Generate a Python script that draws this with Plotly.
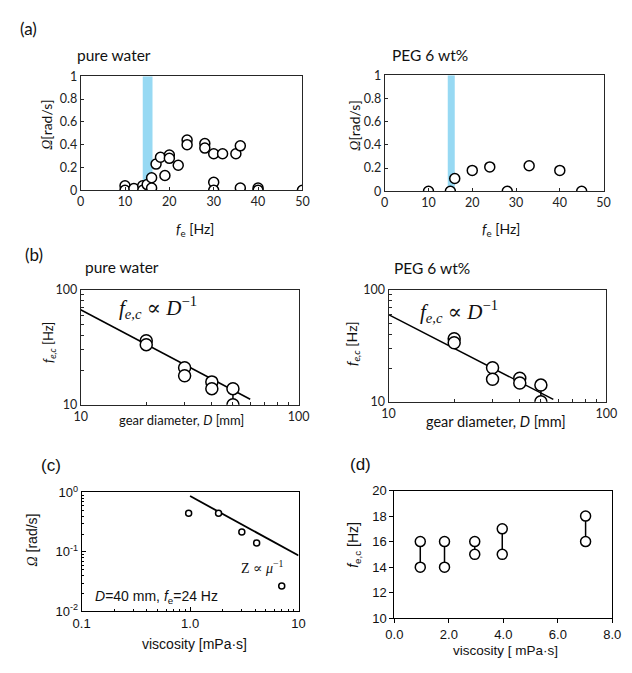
import plotly.graph_objects as go

W, H = 632, 673

# ---------------- data ----------------
a_water_fe = [10, 10, 12, 14, 14, 15, 16, 16, 17, 18, 19, 20, 20, 22, 24, 24, 28, 28,
              30, 30, 30, 32, 35, 36, 36, 40, 40, 50]
a_water_omega = [0.04, 0, 0.015, 0.04, 0, 0.05, 0.11, 0.02, 0.23, 0.29, 0.13, 0.31, 0.28,
                 0.22, 0.44, 0.40, 0.41, 0.37, 0.32, 0.07, 0, 0.32, 0.32, 0.39, 0.02,
                 0.02, 0, 0]
a_water_band = [14, 16.2]

a_peg_fe = [10, 15, 16, 20, 24, 28, 33, 40, 45]
a_peg_omega = [0, 0, 0.11, 0.18, 0.21, 0, 0.22, 0.18, 0]
a_peg_band = [14.4, 16]

b_D = [20, 20, 30, 30, 40, 40, 50, 50]
b_water_fec = [36, 33.3, 21, 17.9, 15.8, 13.8, 13.8, 10]
b_peg_fec = [36.5, 33.6, 20.1, 15.9, 16.2, 14.7, 14.1, 10]
b_water_fit_D = [10, 60]
b_water_fit_K = 670
b_peg_fit_D = [10, 57]
b_peg_fit_K = 600

c_visc = [0.97, 1.83, 3.0, 4.11, 7.0]
c_omega = [0.446, 0.446, 0.217, 0.1415, 0.0268]
c_fit_visc = [1.0, 10.0]
c_fit_K = 0.87

d_visc = [0.95, 1.84, 2.95, 3.96, 7.02]
d_fec_low = [14, 14, 15, 15, 16]
d_fec_high = [16, 16, 16, 17, 18]

# ---------------- helpers ----------------
CAL = "Lato, Carlito, Calibri, sans-serif"
ARI = "Liberation Sans, Arial, sans-serif"
SER = "Liberation Serif, DejaVu Serif, serif"
LINE = "#262626"


def dx(a, b):
    return [a / W, b / W]


def dy(top, bottom):
    return [1 - bottom / H, 1 - top / H]


def px(x):
    return x / W


def py(y):
    return 1 - y / H


fig = go.Figure()


def circles(x, y, xa, ya, size):
    fig.add_trace(go.Scatter(
        x=x, y=y, mode="markers", xaxis=xa, yaxis=ya, showlegend=False,
        marker=dict(symbol="circle", size=size, color="white",
                    line=dict(color="black", width=1.5))))


def vlines(xs, lo, hi, xa, ya):
    xx, yy = [], []
    for x, a, b in zip(xs, lo, hi):
        xx += [x, x, None]
        yy += [a, b, None]
    fig.add_trace(go.Scatter(x=xx, y=yy, mode="lines", xaxis=xa, yaxis=ya,
                             showlegend=False, line=dict(color="black", width=1.5)))


# (a) left
circles(a_water_fe, a_water_omega, "x", "y", 10)
# (a) right
circles(a_peg_fe, a_peg_omega, "x2", "y2", 10)

# (b) left
fig.add_trace(go.Scatter(x=b_water_fit_D, y=[b_water_fit_K / d for d in b_water_fit_D],
                         mode="lines", xaxis="x3", yaxis="y3", showlegend=False,
                         line=dict(color="black", width=1.5)))
vlines([b_D[6]], [b_water_fec[7]], [b_water_fec[6]], "x3", "y3")
circles(b_D, b_water_fec, "x3", "y3", 12)
# (b) right
fig.add_trace(go.Scatter(x=b_peg_fit_D, y=[b_peg_fit_K / d for d in b_peg_fit_D],
                         mode="lines", xaxis="x4", yaxis="y4", showlegend=False,
                         line=dict(color="black", width=1.5)))
vlines([b_D[6]], [b_peg_fec[7]], [b_peg_fec[6]], "x4", "y4")
circles(b_D, b_peg_fec, "x4", "y4", 12)

# (c)
fig.add_trace(go.Scatter(x=c_fit_visc, y=[c_fit_K / v for v in c_fit_visc],
                         mode="lines", xaxis="x5", yaxis="y5", showlegend=False,
                         line=dict(color="black", width=1.8)))
circles(c_visc, c_omega, "x5", "y5", 6)

# (d)
vlines(d_visc, d_fec_low, d_fec_high, "x6", "y6")
circles(d_visc + d_visc, d_fec_low + d_fec_high, "x6", "y6", 10)

# ---------------- axes ----------------
base_cal = dict(showline=True, mirror=True, linecolor=LINE, linewidth=1, showgrid=False,
                zeroline=False, tickfont=dict(family=CAL, size=12.5, color="#222"),
                ticks="inside", ticklen=3, tickcolor=LINE)
base_ari = dict(showline=True, mirror=True, linecolor="black", linewidth=1, showgrid=False,
                zeroline=False, tickfont=dict(family=ARI, size=13, color="#111"),
                tickcolor="black")

ya_lin = dict(range=[0, 1], tickvals=[0, 0.2, 0.4, 0.6, 0.8, 1],
              ticktext=["0", "0.2", "0.4", "0.6", "0.8", "1"])
xa_lin = dict(range=[0, 50], tickvals=[0, 10, 20, 30, 40, 50])

minor_vals = [20, 30, 40, 50, 60, 70, 80, 90]
xa_log = dict(type="log", range=[1, 2], tickvals=[10, 100], ticktext=["10", "100"],
              minor=dict(tickvals=minor_vals, ticks="inside", ticklen=3, tickcolor=LINE))
ya_log = dict(type="log", range=[1, 2], tickvals=[10, 100], ticktext=["10", "100"],
              minor=dict(tickvals=minor_vals, ticks="inside", ticklen=3, tickcolor=LINE))

c_minor_x = [0.2, 0.3, 0.4, 0.5, 0.6, 0.7, 0.8, 0.9, 2, 3, 4, 5, 6, 7, 8, 9]
c_minor_y = [0.02, 0.03, 0.04, 0.05, 0.06, 0.07, 0.08, 0.09,
             0.2, 0.3, 0.4, 0.5, 0.6, 0.7, 0.8, 0.9]

fig.update_layout(
    width=W, height=H, margin=dict(l=0, r=0, t=0, b=0),
    paper_bgcolor="white", plot_bgcolor="white",
    xaxis=dict(base_cal, domain=dx(74, 303), anchor="y", **xa_lin),
    yaxis=dict(base_cal, domain=dy(69, 186), anchor="x", **ya_lin),
    xaxis2=dict(base_cal, domain=dx(388, 614), anchor="y2", **xa_lin),
    yaxis2=dict(base_cal, domain=dy(68, 187), anchor="x2", **ya_lin),
    xaxis3=dict(base_cal, domain=dx(74, 299), anchor="y3", **xa_log),
    yaxis3=dict(base_cal, domain=dy(288, 406), anchor="x3", **ya_log),
    xaxis4=dict(base_cal, domain=dx(392, 617), anchor="y4", **xa_log),
    yaxis4=dict(base_cal, domain=dy(288, 403), anchor="x4", **ya_log),
    xaxis5=dict(base_ari, domain=dx(75, 299), anchor="y5", type="log", range=[-1, 1],
                tickvals=[0.1, 1, 10], ticktext=["0.1", "1.0", "10"], ticks="inside",
                ticklen=4,
                minor=dict(tickvals=c_minor_x, ticks="inside", ticklen=2, tickcolor="black")),
    yaxis5=dict(base_ari, domain=dy(496, 618), anchor="x5", type="log", range=[-2, 0],
                tickvals=[0.01, 0.1, 1],
                ticktext=["10<sup>-2</sup>", "10<sup>-1</sup>", "10<sup>0</sup>"],
                ticks="inside", ticklen=4,
                minor=dict(tickvals=c_minor_y, ticks="inside", ticklen=2, tickcolor="black")),
    xaxis6=dict(base_ari, domain=dx(398, 623), anchor="y6", range=[0, 8],
                tickvals=[0, 2, 4, 6, 8], ticktext=["0.0", "2.0", "4.0", "6.0", "8.0"],
                ticks="outside", ticklen=4),
    yaxis6=dict(base_ari, domain=dy(494, 625), anchor="x6", range=[10, 20],
                tickvals=[10, 12, 14, 16, 18, 20], ticks="outside", ticklen=4),
)

# blue bands
for xr, yr, band in [("x", "y", a_water_band), ("x2", "y2", a_peg_band)]:
    fig.add_shape(type="rect", xref=xr, yref=yr, x0=band[0], x1=band[1], y0=0, y1=1,
                  fillcolor="#97D9F3", line=dict(width=0), layer="below")

# ---------------- text ----------------
def ann(text, x, y, size, family, angle=0, xanchor="center", color="#111"):
    fig.add_annotation(text=text, x=px(x), y=py(y), xref="paper", yref="paper",
                       showarrow=False, xanchor=xanchor, yanchor="middle",
                       textangle=angle, font=dict(family=family, size=size, color=color))


OMEGA = "<i><span style='font-family:Liberation Serif'>Ω</span></i>"

# panel letters
ann("(a)", 20, 20, 17, CAL)
ann("(b)", 26, 252, 17, CAL)
ann("(c)", 43, 468, 17, ARI)
ann("(d)", 363, 467, 17, ARI)

# (a) titles
ann("pure water", 68, 47, 15.5, CAL, xanchor="left")
ann("PEG 6 wt%", 393, 47, 15.5, CAL, xanchor="left")
ann(OMEGA + "[rad/s]", 39, 119, 14, CAL, angle=-90)
ann(OMEGA + "[rad/s]", 357, 120, 14, CAL, angle=-90)
ann("<i>f</i><sub>e</sub> [Hz]", 192, 226, 14, CAL)
ann("<i>f</i><sub>e</sub> [Hz]", 508, 226, 14, CAL)

# (b) titles
ann("pure water", 76, 265, 15.5, CAL, xanchor="left")
ann("PEG 6 wt%", 396, 266, 15.5, CAL, xanchor="left")
ann("<i>f</i><sub><i>e,c</i></sub> [Hz]", 42, 342, 13, CAL, angle=-90)
ann("<i>f</i><sub><i>e,c</i></sub> [Hz]", 355, 343, 14, CAL, angle=-90)
ann("gear diameter, <i>D</i> [mm]", 178, 422, 13, CAL)
ann("gear diameter, <i>D</i> [mm]", 503, 423, 14.5, CAL)
ann("<i>f</i><sub><i>e,c</i></sub> ∝ <i>D</i><sup>−1</sup>", 112, 306, 21, SER, xanchor="left")
ann("<i>f</i><sub><i>e,c</i></sub> ∝ <i>D</i><sup>−1</sup>", 422, 310, 21, SER, xanchor="left")

# (c) texts
ann(OMEGA + " [rad/s]", 24, 545, 14, ARI, angle=-90)
ann("viscosity [mPa·s]", 192, 651, 14, ARI)
ann("Z ∝ <i>μ</i><sup>−1</sup>", 237, 572, 14, SER, xanchor="left")
ann("<i>D</i>=40 mm, <i>f</i><sub>e</sub>=24 Hz", 87, 603, 14, ARI, xanchor="left")

# (d) texts
ann("<i>f</i><sub>e,c</sub> [Hz]", 356, 550, 14, ARI, angle=-90)
ann("viscosity [ mPa·s]", 513, 658, 13.5, ARI)

fig.write_html(
    "out.html",
    config={"displayModeBar": False},
    post_script="document.body.style.margin='0px';document.body.style.overflow='hidden';",
)
